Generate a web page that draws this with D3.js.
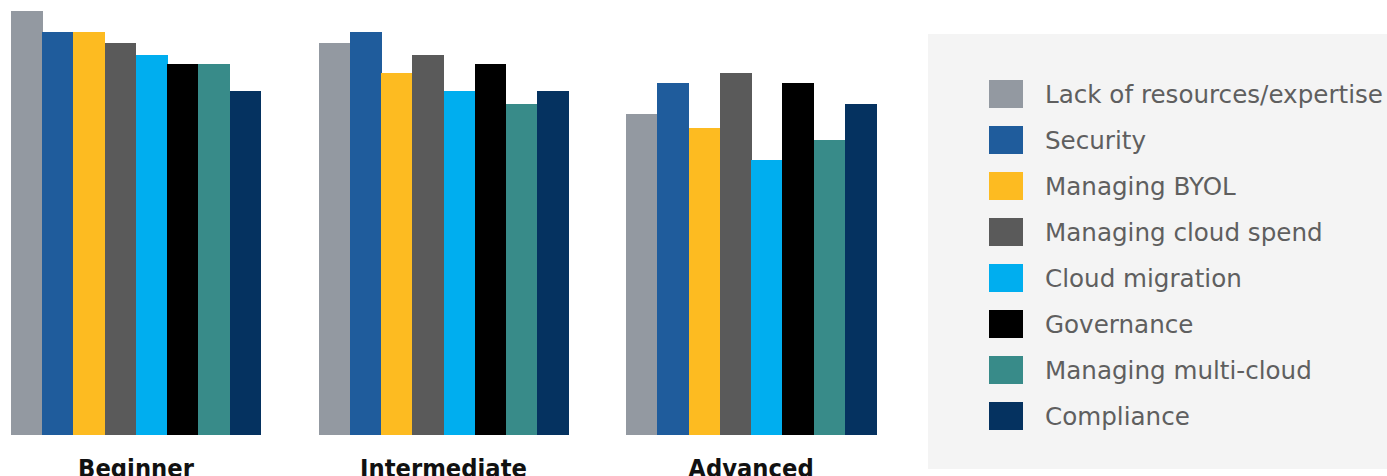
<!DOCTYPE html>
<html><head><meta charset="utf-8">
<script src="https://cdn.jsdelivr.net/npm/d3@7"></script>
<style>html,body{margin:0;padding:0;background:#fff;overflow:hidden}</style>
</head><body>
<svg id="chart" width="1387" height="476"></svg>
<script>
const groups = ["Beginner", "Intermediate", "Advanced"];
const seriesNames = ["Lack of resources/expertise", "Security", "Managing BYOL", "Managing cloud spend",
  "Cloud migration", "Governance", "Managing multi-cloud", "Compliance"];
const seriesColors = ["#9399a1", "#1f5c9c", "#fdbb21", "#5a5a5a", "#00aeef", "#000000", "#388b89", "#053260"];
const beginner =     [42.4, 40.3, 40.3, 39.2, 38.0, 37.1, 37.1, 34.4];
const intermediate = [39.2, 40.3, 36.2, 38.0, 34.4, 37.1, 33.1, 34.4];
const advanced =     [32.1, 35.2, 30.7, 36.2, 27.5, 35.2, 29.5, 33.1];
const values = [beginner, intermediate, advanced];

const svg = d3.select("#chart");
const baseY = 435;
const y = d3.scaleLinear().domain([0, 50]).range([baseY, baseY - 500]);
const x0 = d3.scaleBand().domain(groups).range([11, 876]).paddingInner(0.187).paddingOuter(0);
const x1 = d3.scaleBand().domain(seriesNames).range([0, x0.bandwidth()]).padding(0);
const color = d3.scaleOrdinal().domain(seriesNames).range(seriesColors);

const g = svg.append("g");
groups.forEach((grp, gi) => {
  const gg = g.append("g").attr("transform", `translate(${x0(grp)},0)`);
  gg.selectAll("rect").data(seriesNames.map((s, i) => ({s, v: values[gi][i]})))
    .join("rect")
    .attr("x", d => x1(d.s))
    .attr("width", x1.bandwidth() + 0.5)
    .attr("y", d => y(d.v))
    .attr("height", d => baseY - y(d.v))
    .attr("fill", d => color(d.s))
    .attr("shape-rendering", "crispEdges");
});

// category labels
const catLabels = svg.append("g").selectAll("text").data(groups).join("text")
  .attr("text-anchor", "middle")
  .attr("font-family", "'DejaVu Sans', sans-serif")
  .attr("font-weight", "bold")
  .attr("font-size", 24)
  .attr("fill", "#111")
  .text(d => d);
const nat = catLabels.filter(d => d === "Intermediate").node().getComputedTextLength();
const csx = 167 / nat;
catLabels.attr("transform", d => `translate(${x0(d) + x0.bandwidth() / 2},477) scale(${csx},1)`);

// legend
svg.append("rect").attr("x", 928).attr("y", 34).attr("width", 459).attr("height", 435).attr("fill", "#f4f4f4");
const ly = d3.scalePoint().domain(seriesNames).range([80, 402]);
const leg = svg.append("g");
leg.selectAll("rect").data(seriesNames).join("rect")
  .attr("x", 989).attr("y", d => ly(d)).attr("width", 34).attr("height", 28)
  .attr("fill", d => color(d));
const legTexts = leg.selectAll("text").data(seriesNames).join("text")
  .attr("font-family", "'DejaVu Sans', sans-serif")
  .attr("font-size", 25)
  .attr("fill", "#5f5f5f")
  .text(d => d);
const ln = legTexts.filter((d, i) => i === 0).node().getComputedTextLength();
const lsx = 338 / ln;
legTexts.attr("transform", d => `translate(1045,${ly(d) + 23}) scale(${lsx},1)`);
</script>
</body></html>
